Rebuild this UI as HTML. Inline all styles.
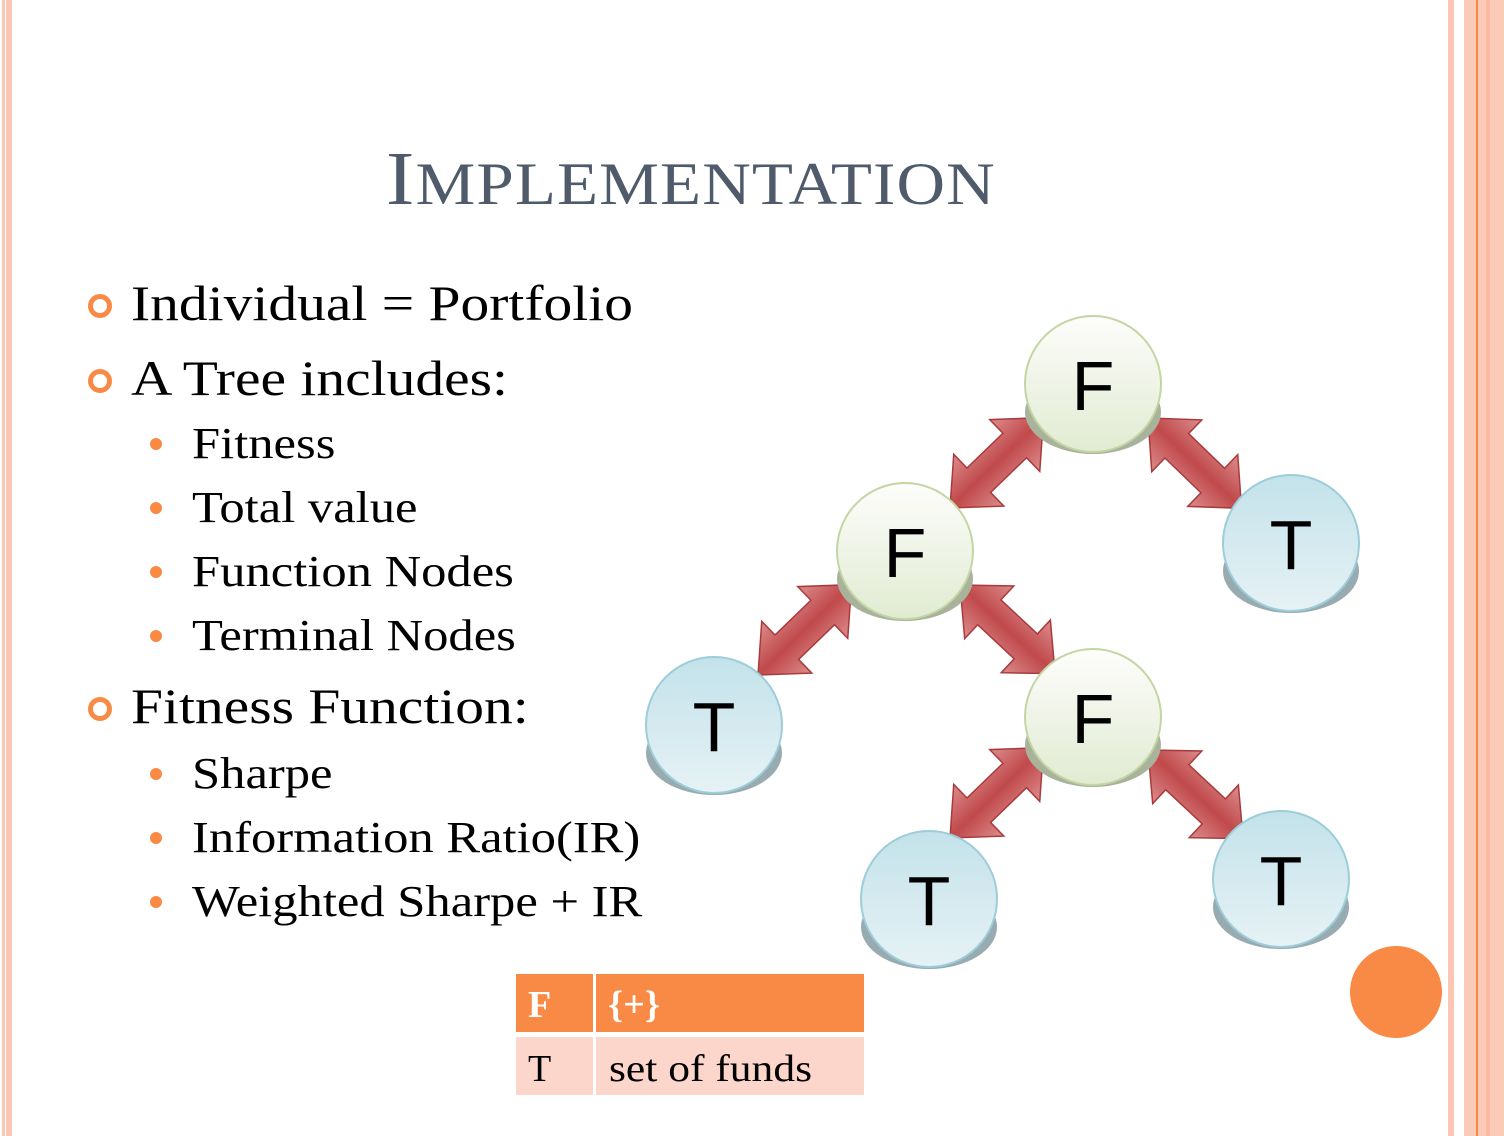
<!DOCTYPE html>
<html><head><style>
body{margin:0;width:1504px;height:1136px;overflow:hidden;background:#fff;position:relative;font-family:"Liberation Serif",serif}
.a{position:absolute}
.t{position:absolute;white-space:nowrap;color:#000;transform:scaleX(1.15);transform-origin:0 0}
.ring{position:absolute;width:14px;height:14px;border:5px solid #f98a45;border-radius:50%}
.dot{position:absolute;width:12px;height:12px;background:#f98a45;border-radius:50%}
</style></head><body>
<div class="a" style="left:2px;top:0;width:3px;height:1136px;background:#fbc6b4"></div>
<div class="a" style="left:6px;top:0;width:6px;height:1136px;background:#fbc6b4"></div>
<div class="a" style="left:1448px;top:0;width:6px;height:1136px;background:#fbc6b4"></div>
<div class="a" style="left:1464px;top:0;width:40px;height:1136px;background:#fccbb8"></div>
<div class="a" style="left:1476px;top:0;width:2px;height:1136px;background:#f98a45"></div>
<div class="a" style="left:1486px;top:0;width:4px;height:1136px;background:#fbb9a0"></div>

<div class="t" style="left:386px;top:136px;font-size:76px;color:#4f5b6b;letter-spacing:1px;transform:scaleX(1.12)">I<span style="font-size:60px">MPLEMENTATION</span></div>

<div class="ring" style="left:88px;top:294px"></div>
<div class="t" style="left:131px;top:274px;font-size:50px">Individual = Portfolio</div>
<div class="ring" style="left:88px;top:369px"></div>
<div class="t" style="left:131px;top:349px;font-size:50px">A Tree includes:</div>
<div class="dot" style="left:150px;top:438px"></div>
<div class="t" style="left:192px;top:418px;font-size:44px">Fitness</div>
<div class="dot" style="left:150px;top:502px"></div>
<div class="t" style="left:192px;top:482px;font-size:44px">Total value</div>
<div class="dot" style="left:150px;top:566px"></div>
<div class="t" style="left:192px;top:546px;font-size:44px">Function Nodes</div>
<div class="dot" style="left:150px;top:630px"></div>
<div class="t" style="left:192px;top:610px;font-size:44px">Terminal Nodes</div>
<div class="ring" style="left:88px;top:697px"></div>
<div class="t" style="left:131px;top:677px;font-size:50px">Fitness Function:</div>
<div class="dot" style="left:150px;top:768px"></div>
<div class="t" style="left:192px;top:748px;font-size:44px">Sharpe</div>
<div class="dot" style="left:150px;top:832px"></div>
<div class="t" style="left:192px;top:812px;font-size:44px">Information Ratio(IR)</div>
<div class="dot" style="left:150px;top:896px"></div>
<div class="t" style="left:192px;top:876px;font-size:44px">Weighted Sharpe + IR</div>

<svg class="a" style="left:0;top:0" width="1504" height="1136">
<defs>
<linearGradient id="fg" x1="0" y1="0" x2="0" y2="1"><stop offset="0" stop-color="#fdfdfb"/><stop offset="1" stop-color="#e1ebd2"/></linearGradient>
<linearGradient id="tg" x1="0" y1="0" x2="0" y2="1"><stop offset="0" stop-color="#c3e2ea"/><stop offset="1" stop-color="#e6f2f5"/></linearGradient>
<linearGradient id="ag" x1="0" y1="0" x2="0" y2="1"><stop offset="0" stop-color="#dd8c8c"/><stop offset="0.5" stop-color="#c0494b"/><stop offset="1" stop-color="#dd8c8c"/></linearGradient>
<g id="arr"><polygon points="0,0 40,-36 40,-17 90,-17 90,-36 130,0 90,36 90,17 40,17 40,36" fill="url(#ag)" stroke="#a93a3c" stroke-width="1.5"/></g>
</defs>
<g font-family="Liberation Sans,sans-serif" font-size="70" text-anchor="middle">
<use href="#arr" transform="translate(950,508) rotate(-44)"/>
<use href="#arr" transform="translate(1148,418) rotate(44)"/>
<use href="#arr" transform="translate(758,675) rotate(-44)"/>
<use href="#arr" transform="translate(960,585) rotate(43)"/>
<use href="#arr" transform="translate(950,838) rotate(-44)"/>
<use href="#arr" transform="translate(1148,750) rotate(43)"/>
<g><ellipse cx="1093" cy="412" rx="68" ry="42" fill="#a9b29b"/><circle cx="1093" cy="384" r="68" fill="url(#fg)" stroke="#c4d5a4" stroke-width="2"/><text x="1093" y="410">F</text></g>
<g><ellipse cx="905" cy="579" rx="68" ry="42" fill="#a9b29b"/><circle cx="905" cy="551" r="68" fill="url(#fg)" stroke="#c4d5a4" stroke-width="2"/><text x="905" y="577">F</text></g>
<g><ellipse cx="1093" cy="745" rx="68" ry="42" fill="#a9b29b"/><circle cx="1093" cy="717" r="68" fill="url(#fg)" stroke="#c4d5a4" stroke-width="2"/><text x="1093" y="743">F</text></g>
<g><ellipse cx="1291" cy="571" rx="68" ry="42" fill="#97abb1"/><circle cx="1291" cy="543" r="68" fill="url(#tg)" stroke="#9ccdd9" stroke-width="2"/><text x="1291" y="569">T</text></g>
<g><ellipse cx="714" cy="753" rx="68" ry="42" fill="#97abb1"/><circle cx="714" cy="725" r="68" fill="url(#tg)" stroke="#9ccdd9" stroke-width="2"/><text x="714" y="751">T</text></g>
<g><ellipse cx="929" cy="927" rx="68" ry="42" fill="#97abb1"/><circle cx="929" cy="899" r="68" fill="url(#tg)" stroke="#9ccdd9" stroke-width="2"/><text x="929" y="925">T</text></g>
<g><ellipse cx="1281" cy="907" rx="68" ry="42" fill="#97abb1"/><circle cx="1281" cy="879" r="68" fill="url(#tg)" stroke="#9ccdd9" stroke-width="2"/><text x="1281" y="905">T</text></g>
</g>
<circle cx="1396" cy="992" r="46" fill="#f98a45"/>
<rect x="516" y="974" width="77" height="58" fill="#f98a45"/>
<rect x="596" y="974" width="268" height="58" fill="#f98a45"/>
<rect x="516" y="1037" width="77" height="58" fill="#fdd6cb"/>
<rect x="596" y="1037" width="268" height="58" fill="#fdd6cb"/>
<g font-family="Liberation Serif,serif" font-size="38">
<text x="528" y="1017" fill="#fff" font-weight="bold">F</text>
<text x="608" y="1017" fill="#fff" font-weight="bold" textLength="52" lengthAdjust="spacingAndGlyphs">{+}</text>
<text x="528" y="1081" fill="#000">T</text>
<text x="609" y="1081" fill="#000" textLength="203" lengthAdjust="spacingAndGlyphs">set of funds</text>
</g>
</svg>
</body></html>
